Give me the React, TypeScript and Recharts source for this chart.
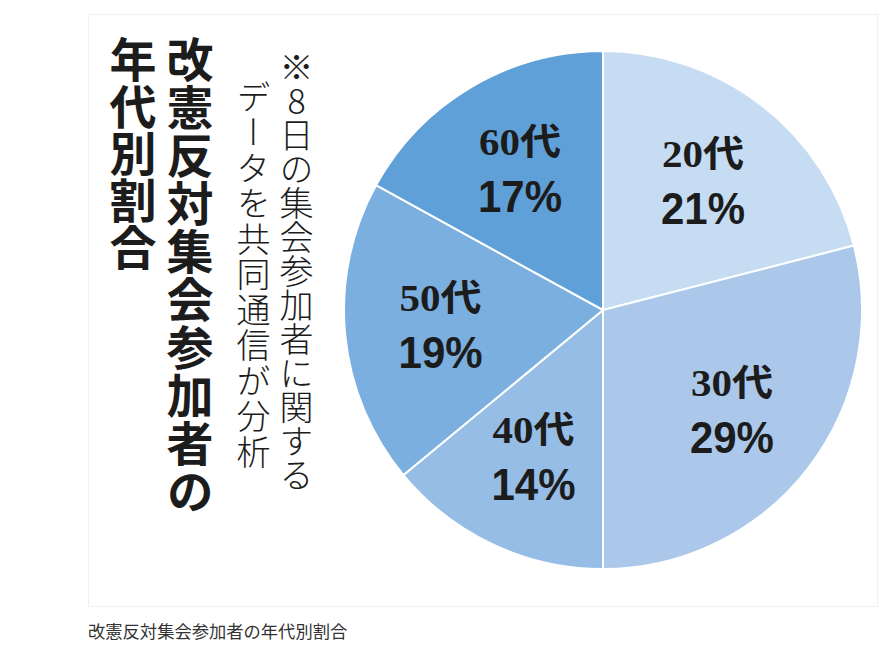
import { PieChart, Pie, Cell } from 'recharts'

// 改憲反対集会参加者の年代別割合
const ages = ['20代', '30代', '40代', '50代', '60代']
const shares = [21, 29, 14, 19, 17]
const sliceColors = ['#c5dcf2', '#abc8ea', '#96bde6', '#7bafe0', '#60a0d8']

const titleColumns = ['改憲反対集会参加者の', '年代別割合']
const noteColumns = ['※8日の集会参加者に関する', 'データを共同通信が分析']
const caption = '改憲反対集会参加者の年代別割合'

const chartData = ages.map((age, i) => ({ age, share: shares[i] }))

const RADIAN = Math.PI / 180
const gothic = "'Noto Sans CJK JP', 'Noto Sans', sans-serif"

function SliceLabel(props: any) {
  const { cx, cy, midAngle, outerRadius, payload } = props
  const r = outerRadius * 0.63
  const x = cx + r * Math.cos(-midAngle * RADIAN)
  const y = cy + r * Math.sin(-midAngle * RADIAN)
  return (
    <g>
      <text
        x={x}
        y={y - 27}
        textAnchor="middle"
        dominantBaseline="central"
        fill="#1c1c1c"
        textLength={82}
        lengthAdjust="spacingAndGlyphs"
        style={{ fontFamily: "'Liberation Serif', 'Noto Sans CJK JP', serif", fontWeight: 700, fontSize: 37 }}
      >
        {payload.age}
      </text>
      <text
        x={x}
        y={y + 27}
        textAnchor="middle"
        dominantBaseline="central"
        fill="#1c1c1c"
        textLength={84}
        lengthAdjust="spacingAndGlyphs"
        style={{ fontFamily: "'Liberation Sans', 'DejaVu Sans', sans-serif", fontWeight: 700, fontSize: 44 }}
      >
        {payload.share}%
      </text>
    </g>
  )
}

function VerticalColumn({ text, cx, top, size, weight, spacing = 0 }: any) {
  return (
    <div
      style={{
        position: 'absolute',
        left: cx - size / 2,
        top,
        width: size,
        writingMode: 'vertical-rl',
        textOrientation: 'upright',
        fontFamily: gothic,
        fontSize: size,
        fontWeight: weight,
        lineHeight: `${size}px`,
        letterSpacing: spacing,
        color: '#1c1c1c',
        whiteSpace: 'nowrap',
      }}
    >
      {text}
    </div>
  )
}

export default function App() {
  return (
    <div style={{ position: 'absolute', left: 0, top: 0, width: 878, height: 656, background: '#fff' }}>
      <div
        style={{
          position: 'absolute',
          left: 88,
          top: 14,
          width: 790,
          height: 593,
          border: '1px solid #f0f0f0',
          boxSizing: 'border-box',
        }}
      />
      <PieChart width={878} height={620} style={{ position: 'absolute', left: 0, top: 0 }}>
        <Pie
          data={chartData}
          dataKey="share"
          nameKey="age"
          cx={598}
          cy={305}
          outerRadius={259}
          startAngle={90}
          endAngle={-270}
          stroke="#ffffff"
          strokeWidth={2}
          label={SliceLabel}
          labelLine={false}
          isAnimationActive={false}
        >
          {chartData.map((d, i) => (
            <Cell key={d.age} fill={sliceColors[i]} />
          ))}
        </Pie>
      </PieChart>

      <VerticalColumn text={titleColumns[0]} cx={190} top={36} size={47} weight={700} spacing={1} />
      <VerticalColumn text={titleColumns[1]} cx={133} top={36} size={47} weight={700} />
      <VerticalColumn text={noteColumns[0]} cx={296} top={50} size={34} weight={300} />
      <VerticalColumn text={noteColumns[1]} cx={253} top={80} size={34} weight={300} spacing={1.5} />

      <div
        style={{
          position: 'absolute',
          left: 88,
          top: 619,
          fontFamily: gothic,
          fontSize: 17.3,
          lineHeight: '24px',
          color: '#333',
          whiteSpace: 'nowrap',
        }}
      >
        {caption}
      </div>
    </div>
  )
}
